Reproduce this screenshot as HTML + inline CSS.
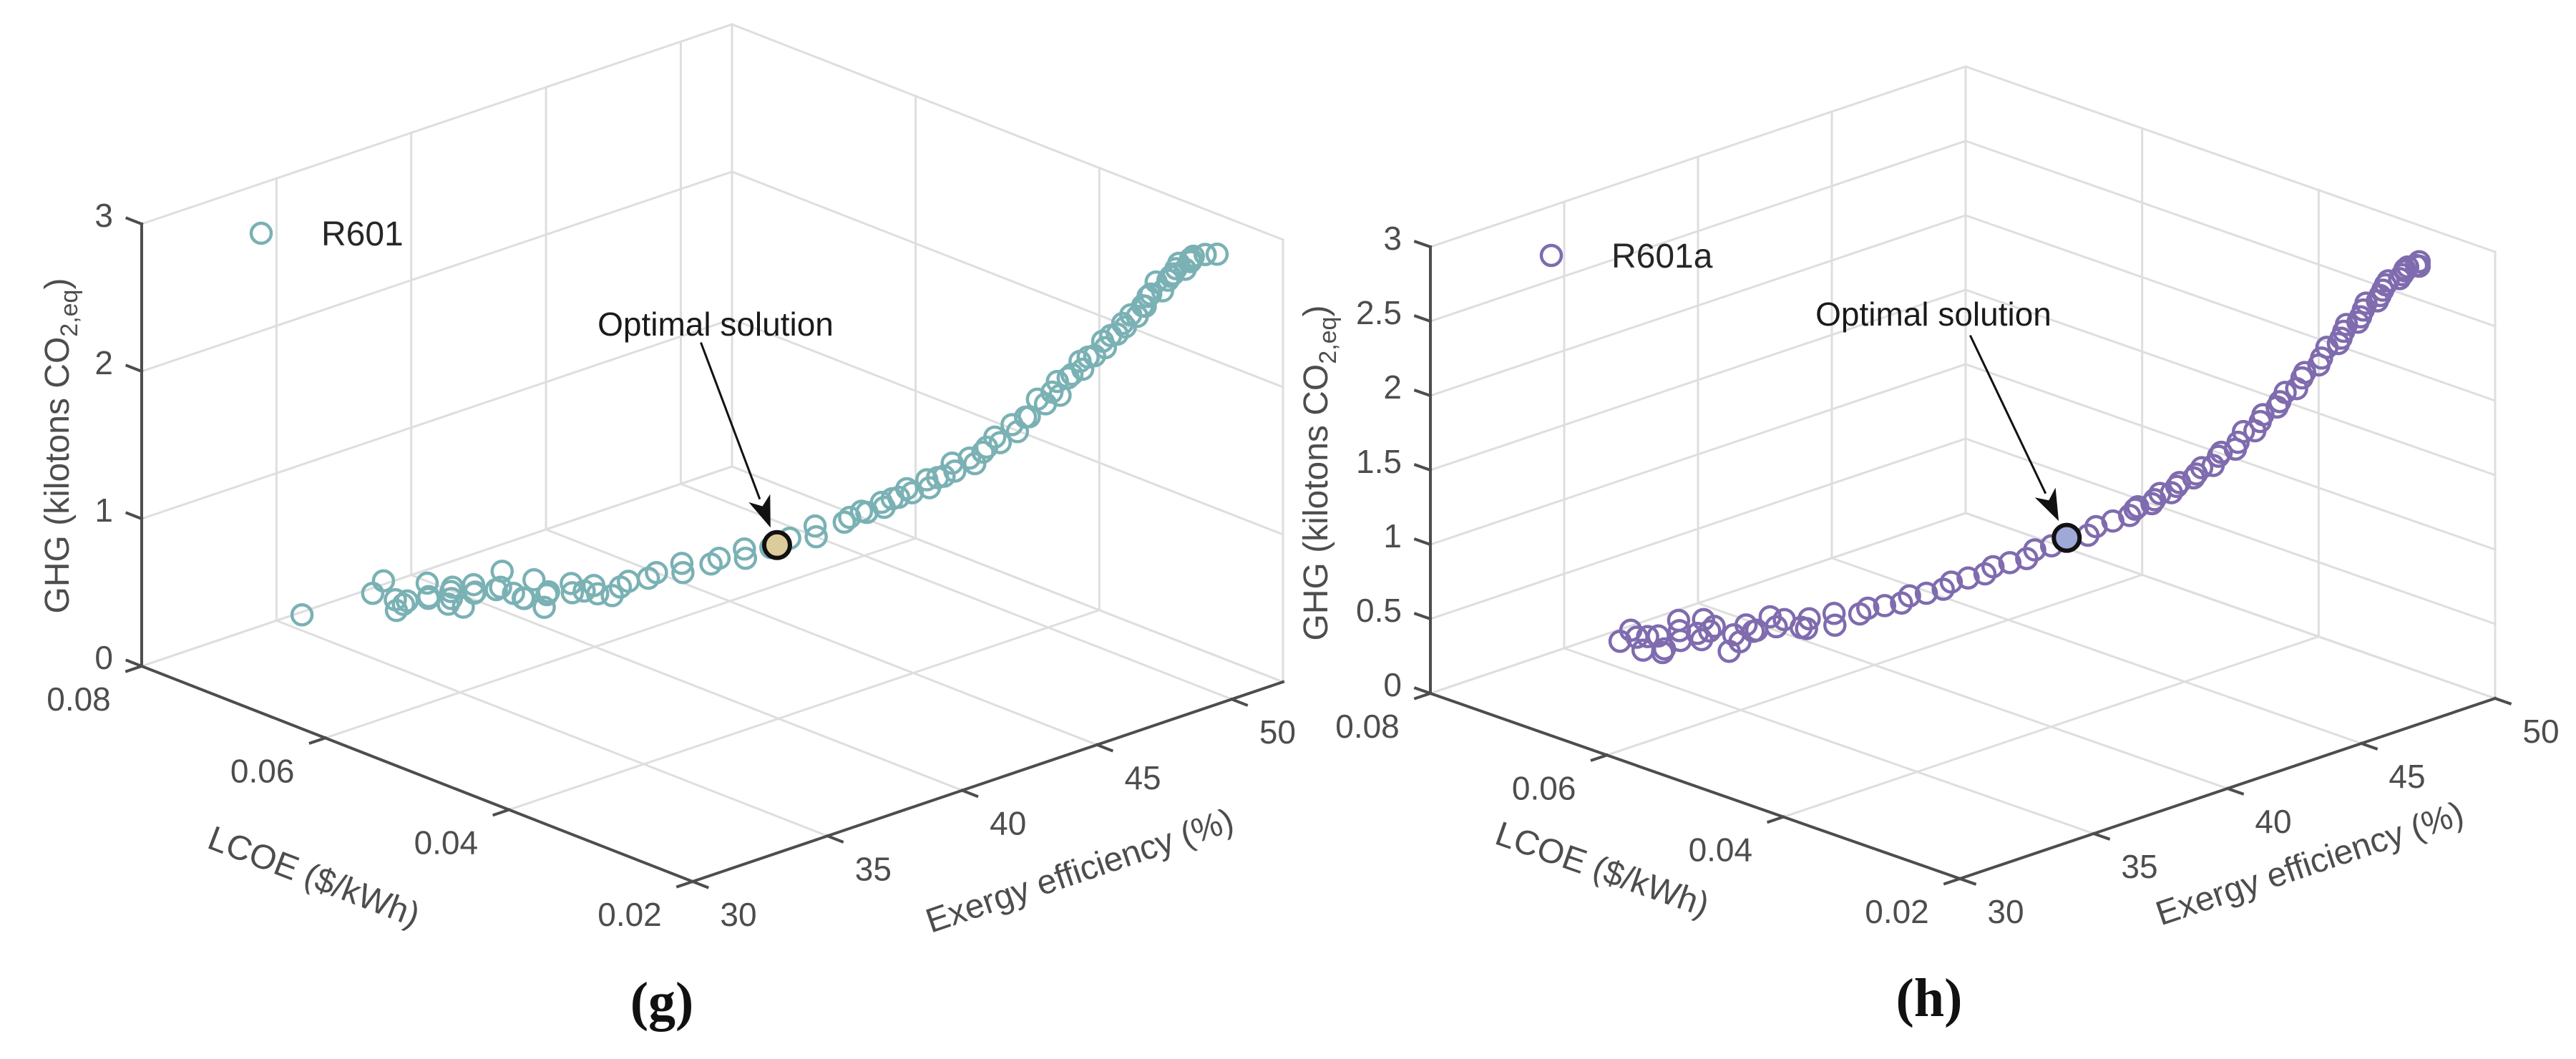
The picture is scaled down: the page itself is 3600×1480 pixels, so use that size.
<!DOCTYPE html>
<html><head><meta charset="utf-8"><style>
html,body{margin:0;padding:0;background:#fff;}
svg{display:block;font-family:"Liberation Sans",sans-serif;}
</style></head><body>
<svg id="chart" width="3600" height="1480" viewBox="0 0 3600 1480" xmlns="http://www.w3.org/2000/svg">
<rect width="3600" height="1480" fill="#fff"/>
<g id="panelG"></g>
<g id="panelH"></g>
</svg>
<script>
// ---- data ----
const lcoeTicks = [0.08, 0.06, 0.04, 0.02];
const lcoeTickLabels = ["0.08", "0.06", "0.04", "0.02"];
const effTicks = [30, 35, 40, 45, 50];
const effTickLabels = ["30", "35", "40", "45", "50"];
const ghgTicksG = [0, 1, 2, 3];
const ghgTickLabelsG = ["0", "1", "2", "3"];
const ghgTicksH = [0, 0.5, 1, 1.5, 2, 2.5, 3];
const ghgTickLabelsH = ["0", "0.5", "1", "1.5", "2", "2.5", "3"];

const effG = [32.2,33.8,34.0,34.2,34.3,34.5,34.6,34.8,34.9,35.2,35.4,35.5,35.7,35.9,36.0,36.2,36.5,36.7,36.9,37.0,37.2,37.4,37.6,37.8,38.1,38.4,38.6,38.9,39.2,39.6,39.9,40.2,40.5,40.9,41.2,41.5,41.8,42.1,42.8,43.1,43.4,43.8,44.0,44.3,44.6,44.9,45.3,45.6,45.9,46.2,46.6,46.9,47.2,47.5,47.8,48.2,48.4,48.7,48.9,49.1,49.4,49.6,49.8,50.0,50.2,50.4,50.6,50.9,51.0,51.1,51.2,51.3,51.4,51.5,
  44.1,44.5,44.8,45.1,45.5,45.8,46.1,46.4,46.7,47.0,47.3,47.6,47.9,48.1,48.3,48.5,48.8,49.0,49.3,49.5,49.7,49.9,50.1,50.3,50.5,50.7,50.8,51.0,51.2,51.4,
  34.4,35.0,35.8,36.3,37.1,37.9,38.6];
const lcoeG = [0.069,0.066,0.064,0.066,0.065,0.062,0.065,0.063,0.061,0.064,0.062,0.060,0.063,0.061,0.059,0.062,0.060,0.058,0.061,0.059,0.057,0.059,0.058,0.056,0.057,0.055,0.056,0.054,0.054,0.053,0.053,0.051,0.052,0.050,0.050,0.048,0.049,0.047,0.047,0.045,0.046,0.044,0.044,0.043,0.042,0.042,0.041,0.040,0.040,0.039,0.038,0.038,0.037,0.036,0.036,0.035,0.034,0.034,0.033,0.033,0.032,0.032,0.031,0.031,0.030,0.030,0.030,0.029,0.029,0.029,0.028,0.028,0.027,0.026,
  0.043,0.042,0.041,0.041,0.040,0.039,0.039,0.038,0.037,0.037,0.036,0.035,0.035,0.034,0.034,0.033,0.033,0.032,0.032,0.031,0.031,0.030,0.030,0.030,0.029,0.029,0.029,0.028,0.028,0.027,
  0.064,0.061,0.062,0.058,0.057,0.055,0.054];
const ghgG = [0.48,0.60,0.52,0.66,0.55,0.62,0.50,0.68,0.58,0.54,0.64,0.70,0.52,0.60,0.66,0.55,0.62,0.58,0.68,0.54,0.60,0.64,0.57,0.60,0.62,0.58,0.60,0.62,0.64,0.66,0.68,0.71,0.73,0.75,0.77,0.80,0.82,0.86,0.88,0.92,0.95,1.00,1.02,1.06,1.10,1.14,1.18,1.22,1.27,1.32,1.37,1.43,1.50,1.58,1.66,1.75,1.82,1.92,1.99,2.06,2.13,2.20,2.27,2.34,2.41,2.48,2.55,2.61,2.64,2.67,2.70,2.73,2.76,2.78,
  1.08,1.14,1.18,1.22,1.28,1.31,1.38,1.42,1.50,1.55,1.64,1.70,1.80,1.86,1.92,1.98,2.05,2.10,2.18,2.24,2.30,2.36,2.42,2.47,2.52,2.58,2.60,2.66,2.72,2.76,
  0.56,0.66,0.48,0.64,0.52,0.63,0.58];
const optG = {eff: 42.5, lcoe: 0.0475, ghg: 0.84};

const effH = [32.8,33.0,33.2,33.4,33.5,33.7,33.9,34.0,34.2,34.4,34.5,34.7,34.9,35.0,35.2,35.4,35.6,35.8,36.0,36.3,36.6,36.9,37.2,37.5,37.8,38.1,38.4,38.7,39.0,39.3,39.6,39.9,40.2,40.5,40.8,41.1,41.4,41.7,42.0,42.7,43.0,43.3,43.6,43.9,44.2,44.5,44.8,45.1,45.4,45.7,46.0,46.3,46.6,46.9,47.2,47.5,47.8,48.1,48.3,48.5,48.7,48.9,49.1,49.3,49.5,49.6,49.7,49.8,
  43.8,44.1,44.4,44.7,45.0,45.3,45.6,45.9,46.2,46.5,46.8,47.1,47.4,47.7,48.0,48.2,48.4,48.6,48.8,49.0,49.2,49.4,49.6,49.7,49.8,
  33.1,33.8,34.6,35.3,36.1,36.8];
const lcoeH = [0.067,0.065,0.067,0.064,0.066,0.063,0.066,0.064,0.062,0.065,0.062,0.064,0.061,0.063,0.060,0.062,0.060,0.061,0.059,0.059,0.058,0.058,0.056,0.057,0.055,0.055,0.054,0.053,0.053,0.052,0.051,0.051,0.050,0.049,0.049,0.048,0.047,0.047,0.046,0.044,0.044,0.043,0.042,0.042,0.041,0.040,0.040,0.039,0.038,0.038,0.037,0.036,0.036,0.035,0.034,0.034,0.033,0.032,0.032,0.031,0.031,0.030,0.030,0.030,0.029,0.029,0.029,0.028,
  0.042,0.041,0.041,0.040,0.039,0.039,0.038,0.037,0.037,0.036,0.035,0.035,0.034,0.033,0.033,0.032,0.032,0.031,0.031,0.030,0.030,0.029,0.029,0.028,0.028,
  0.066,0.065,0.063,0.061,0.060,0.058];
const ghgH = [0.45,0.42,0.50,0.40,0.46,0.55,0.44,0.58,0.48,0.40,0.52,0.45,0.38,0.50,0.56,0.44,0.50,0.46,0.52,0.55,0.50,0.54,0.52,0.56,0.58,0.60,0.62,0.64,0.67,0.69,0.72,0.75,0.78,0.81,0.84,0.87,0.90,0.94,0.97,1.04,1.08,1.12,1.16,1.20,1.25,1.30,1.35,1.41,1.47,1.54,1.61,1.69,1.78,1.87,1.96,2.05,2.15,2.25,2.32,2.39,2.46,2.53,2.59,2.64,2.69,2.71,2.73,2.75,
  1.19,1.23,1.28,1.33,1.39,1.44,1.52,1.57,1.67,1.74,1.84,1.92,2.02,2.11,2.21,2.28,2.36,2.42,2.50,2.56,2.62,2.67,2.72,2.76,2.78,
  0.48,0.38,0.57,0.42,0.56,0.48];
const optH = {eff: 42.4, lcoe: 0.0455, ghg: 1.01};

// ---- geometry ----
const NS = "http://www.w3.org/2000/svg";
function mk(parent, tag, attrs, text) {
  const e = document.createElementNS(NS, tag);
  for (const k in attrs) e.setAttribute(k, attrs[k]);
  if (text !== undefined) e.textContent = text;
  parent.appendChild(e);
  return e;
}
function makeProj(p) {
  return function (L, E, G) {
    const l = (p.L0 - L) / (p.L0 - p.L1);
    return [p.ax + l * p.uL[0] + (E - p.E0) * p.eu[0],
            p.ay + l * p.uL[1] + (E - p.E0) * p.eu[1] - G * p.gz];
  };
}
function line(g, a, b, stroke, w, name) {
  const el = mk(g, "line", {x1: a[0], y1: a[1], x2: b[0], y2: b[1], stroke: stroke, "stroke-width": w, "stroke-linecap": "square"});
  
  
  return el;
}
function drawPanel(g, p, eff, lcoe, ghg, opt, ghgTicks, ghgLabels) {
  const P = makeProj(p);
  const grid = "#dedede", ax = "#4d4d4d";
  const gg = mk(g, "g", {});
  
  
  lcoeTicks.forEach(L => line(gg, P(L, p.E0, 0), P(L, p.Emax, 0), grid, 3, 'floor-grid-lcoe'));
  effTicks.concat([p.Emax]).forEach(E => line(gg, P(p.L0, E, 0), P(p.L1, E, 0), grid, 3, 'floor-grid-eff'));
  effTicks.concat([p.Emax]).forEach(E => line(gg, P(p.L0, E, 0), P(p.L0, E, p.Gmax), grid, 3, 'wall-grid-eff'));
  ghgTicks.forEach(G => line(gg, P(p.L0, p.E0, G), P(p.L0, p.Emax, G), grid, 3, 'wall-grid-ghg'));
  lcoeTicks.forEach(L => line(gg, P(L, p.Emax, 0), P(L, p.Emax, p.Gmax), grid, 3, 'wall2-grid-lcoe'));
  ghgTicks.forEach(G => line(gg, P(p.L0, p.Emax, G), P(p.L1, p.Emax, G), grid, 3, 'wall2-grid-ghg'));

  line(g, P(p.L0, p.E0, 0), P(p.L0, p.E0, p.Gmax), ax, 4, 'ghg-axis-line');
  line(g, P(p.L0, p.E0, 0), P(p.L1, p.E0, 0), ax, 4, 'lcoe-axis-line');
  line(g, P(p.L1, p.E0, 0), P(p.L1, p.Emax, 0), ax, 4, 'eff-axis-line');
  const nL = Math.hypot(p.uL[0], p.uL[1]), dL = [p.uL[0] / nL * 22, p.uL[1] / nL * 22];
  const nE = Math.hypot(p.eu[0], p.eu[1]), dE = [-p.eu[0] / nE * 22, -p.eu[1] / nE * 22];
  const lab = {fill: "#4d4d4d", "font-size": 46};
  ghgTicks.forEach((G, i) => {
    const a = P(p.L0, p.E0, G);
    line(g, a, [a[0] - dL[0], a[1] - dL[1]], ax, 4, 'ghg-tick');
    const t = mk(g, "text", Object.assign({x: a[0] - 40, y: a[1] + 4, "text-anchor": "end"}, lab), ghgLabels[i]);
    
    
  });
  lcoeTicks.forEach((L, i) => {
    const a = P(L, p.E0, 0);
    line(g, a, [a[0] + dE[0], a[1] + dE[1]], ax, 4, 'lcoe-tick');
    const t = mk(g, "text", Object.assign({x: a[0] - 88, y: a[1] + 62, "text-anchor": "middle"}, lab), lcoeTickLabels[i]);
    
    
  });
  effTicks.forEach((E, i) => {
    const a = P(p.L1, E, 0);
    line(g, a, [a[0] + dL[0], a[1] + dL[1]], ax, 4, 'eff-tick');
    const t = mk(g, "text", Object.assign({x: a[0] + 64, y: a[1] + 62, "text-anchor": "middle"}, lab), effTickLabels[i]);
    
    
  });

  const gt = mk(g, "text", {x: p.gLab[0], y: p.gLab[1], "text-anchor": "middle", "font-size": 48, fill: "#4d4d4d", transform: `rotate(-90 ${p.gLab[0]} ${p.gLab[1]})`});
  
  
  gt.appendChild(document.createTextNode("GHG (kilotons CO"));
  mk(gt, "tspan", {"font-size": 34, dy: 12}, "2,eq");
  mk(gt, "tspan", {dy: -12}, ")");
  const lt = mk(g, "text", {x: p.lLab[0], y: p.lLab[1], "text-anchor": "middle", "font-size": 48, fill: "#4d4d4d", transform: `rotate(${p.lLab[2]} ${p.lLab[0]} ${p.lLab[1]})`}, "LCOE ($/kWh)");
  
  
  const et = mk(g, "text", {x: p.eLab[0], y: p.eLab[1], "text-anchor": "middle", "font-size": 48, fill: "#4d4d4d", transform: `rotate(${p.eLab[2]} ${p.eLab[0]} ${p.eLab[1]})`}, "Exergy efficiency (%)");
  
  

  const sg = mk(g, "g", {});
  
  
  for (let i = 0; i < eff.length; i++) {
    const q = P(lcoe[i], eff[i], ghg[i]);
    const c = mk(sg, "circle", {cx: q[0], cy: q[1], r: 14, fill: "none", stroke: p.color, "stroke-width": 4.5});
    
    
  }
  const o = P(opt.lcoe, opt.eff, opt.ghg);
  const oc = mk(g, "circle", {cx: o[0], cy: o[1], r: 18, fill: p.optFill, stroke: "#111", "stroke-width": 6});
  
  
  const s = p.arrowStart, dx = o[0] - s[0], dy = o[1] - s[1], n = Math.hypot(dx, dy);
  const ux = dx / n, uy = dy / n, tip = [o[0] - ux * 26, o[1] - uy * 26];
  const base = [tip[0] - ux * 44, tip[1] - uy * 44];
  line(g, s, base, "#111", 3, 'optimal-arrow-shaft');
  const hd = mk(g, "polygon", {points: `${tip[0]},${tip[1]} ${base[0] - uy * 16},${base[1] + ux * 16} ${base[0] + ux * 12},${base[1] + uy * 12} ${base[0] + uy * 16},${base[1] - ux * 16}`, fill: "#111"});
  
  
  const ot = mk(g, "text", {x: p.optLab[0], y: p.optLab[1], "text-anchor": "middle", "font-size": 46, fill: "#1a1a1a"}, "Optimal solution");
  
  
  const lg = mk(g, "g", {});
  
  
  mk(lg, "circle", {cx: p.leg[0], cy: p.leg[1], r: 14, fill: "none", stroke: p.color, "stroke-width": 4.5});
  mk(lg, "text", {x: p.leg[0] + 84, y: p.leg[1] + 17, "font-size": 48, fill: "#262626"}, p.name);
  const cap = mk(g, "text", {x: p.cap[0], y: p.cap[1], "text-anchor": "middle", "font-size": 76, "font-weight": "bold", fill: "#111", "font-family": "Liberation Serif, serif"}, p.capText);
  
  
}

drawPanel(document.getElementById("panelG"), {
  ax: 198, ay: 931, L0: 0.08, L1: 0.02, uL: [770, 301], E0: 30, Emax: 51.9, eu: [37.67, -12.74], gz: 206, Gmax: 3,
  color: "#7ab1b4", optFill: "#dccb9b", gLab: [96, 623], lLab: [433, 1240, 21], eLab: [1514, 1232, -18.7],
  arrowStart: [980, 480], optLab: [1000, 469], leg: [365, 326], name: "R601", cap: [925, 1425], capText: "(g)"
}, effG, lcoeG, ghgG, optG, ghgTicksG, ghgTickLabelsG);

drawPanel(document.getElementById("panelH"), {
  ax: 1999, ay: 969, L0: 0.08, L1: 0.02, uL: [740, 259], E0: 30, Emax: 50, eu: [37.4, -12.6], gz: 208, Gmax: 3,
  color: "#7f6bae", optFill: "#9fa9d8", gLab: [1855, 661], lLab: [2234, 1230, 19.3], eLab: [3233, 1222, -18.6],
  arrowStart: [2754, 470], optLab: [2702, 455], leg: [2168, 357], name: "R601a", cap: [2696, 1420], capText: "(h)"
}, effH, lcoeH, ghgH, optH, ghgTicksH, ghgTickLabelsH);
</script>
</body></html>
